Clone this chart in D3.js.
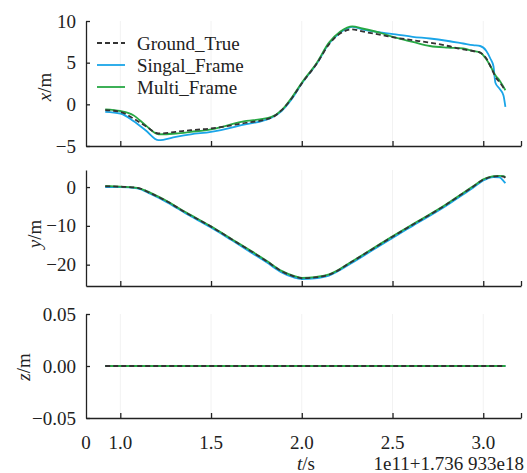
<!DOCTYPE html>
<html>
<head>
<meta charset="utf-8">
<script src="https://cdn.jsdelivr.net/npm/d3@7"></script>
<style>
  body { margin: 0; background: #fff; }
  svg text { font-family: "Liberation Serif", "Times New Roman", serif; font-size: 19px; fill: #222; }
</style>
</head>
<body>
<div id="chart"></div>
<script>
// time stamps (offset 1e11+1.736933e18, scaled)
const tX = [0.917, 1.000, 1.072, 1.139, 1.211, 1.306, 1.389, 1.500, 1.667, 1.833, 1.889, 1.944, 2.000,
  2.083, 2.150, 2.211, 2.250, 2.278, 2.333, 2.444, 2.517, 2.611, 2.706, 2.806, 2.889, 2.944, 2.983,
  3.017, 3.039, 3.056, 3.067, 3.089, 3.111, 3.122];
const xGround = [-0.7, -0.9, -1.7, -2.6, -3.5, -3.3, -3.1, -2.9, -2.3, -1.6, -0.7, 0.7, 2.5,
  4.9, 7.2, 8.5, 8.9, 9.0, 8.75, 8.3, 8.0, 7.7, 7.4, 7.0, 6.6, 6.4, 6.2,
  5.5, 4.6, 3.8, 3.3, 2.7, 2.0, 1.7];
const xSingle = [-0.9, -1.1, -2.0, -3.1, -4.3, -3.9, -3.6, -3.3, -2.5, -1.6, -0.8, 0.6, 2.5,
  4.9, 7.3, 8.6, 9.1, 9.3, 9.0, 8.6, 8.4, 8.1, 7.9, 7.6, 7.3, 7.1, 7.0,
  6.4, 5.5, 4.6, 2.6, 1.9, 1.1, -0.3];
const xMulti = [-0.6, -0.8, -1.3, -2.5, -3.6, -3.5, -3.3, -3.0, -2.1, -1.5, -0.7, 0.8, 2.6,
  5.0, 7.4, 8.7, 9.2, 9.35, 9.1, 8.5, 8.0, 7.5, 7.0, 6.8, 6.7, 6.4, 6.2,
  5.4, 4.6, 3.9, 3.5, 2.9, 2.1, 1.7];

const tY = [0.917, 1.000, 1.094, 1.167, 1.261, 1.361, 1.500, 1.611, 1.722, 1.806, 1.889, 1.956, 2.000,
  2.072, 2.150, 2.278, 2.389, 2.500, 2.611, 2.794, 2.889, 2.944, 3.000, 3.056, 3.089, 3.111, 3.122];
const yGround = [0.2, 0.1, -0.2, -1.6, -3.8, -6.6, -10.2, -13.4, -16.6, -19.1, -21.7, -23.0, -23.5,
  -23.3, -22.6, -19.2, -16.0, -12.8, -9.7, -4.6, -1.6, 0.1, 1.9, 2.7, 2.8, 2.7, 2.4];
const ySingle = [0.0, 0.0, -0.3, -1.8, -4.0, -6.8, -10.4, -13.6, -16.9, -19.4, -22.0, -23.3, -23.7,
  -23.5, -22.8, -19.5, -16.3, -13.1, -10.0, -4.9, -1.9, -0.2, 1.7, 2.6, 2.5, 1.6, 1.0];
const yMulti = [0.3, 0.1, -0.2, -1.5, -3.7, -6.5, -10.1, -13.3, -16.5, -19.0, -21.6, -22.9, -23.4,
  -23.2, -22.5, -19.1, -15.9, -12.7, -9.6, -4.5, -1.5, 0.2, 2.0, 2.8, 2.9, 2.8, 2.6];

const tZ = [0.917, 1.5, 2.0, 2.5, 3.0, 3.122];
const zGround = [0, 0, 0, 0, 0, 0];
const zSingle = [0, 0, 0, 0, 0, 0];
const zMulti = [0, 0, 0, 0, 0, 0];

const xTicks = [1.0, 1.5, 2.0, 2.5, 3.0];
const seriesNames = ["Ground_True", "Singal_Frame", "Multi_Frame"];
const seriesColors = ["#333333", "#1aa5e8", "#27a844"];

const width = 527, height = 473;
const left = 86, right = 521;
const font = "Liberation Serif";

const svg = d3.select("#chart").append("svg")
  .attr("width", width)
  .attr("height", height);

const xScale = d3.scaleLinear().domain([0.811, 3.208]).range([left, right]);

const panels = [
  { t: tX, series: [xGround, xSingle, xMulti], domain: [-5, 10], range: [146, 21], ticks: [-5, 0, 5, 10], fmt: d3.format("d"), label: "x", labelX: 44, labelY: 87 },
  { t: tY, series: [yGround, ySingle, yMulti], domain: [-25.5, 4.4], range: [286, 170], ticks: [-20, -10, 0], fmt: d3.format("d"), label: "y", labelX: 34, labelY: 234 },
  { t: tZ, series: [zGround, zSingle, zMulti], domain: [-0.05, 0.05], range: [418, 314], ticks: [-0.05, 0, 0.05], fmt: d3.format(".2f"), label: "z", labelX: 23, labelY: 367 }
];

panels.forEach(p => {
  const yScale = d3.scaleLinear().domain(p.domain).range(p.range);
  const g = svg.append("g");

  // faint vertical marks at the x ticks
  g.selectAll(".grid").data(xTicks).enter().append("line")
    .attr("x1", d => xScale(d)).attr("x2", d => xScale(d))
    .attr("y1", p.range[1]).attr("y2", p.range[0])
    .attr("stroke", "#f2f2f2").attr("stroke-width", 1);

  // x axis with inward ticks
  const xAxis = d3.axisBottom(xScale)
    .tickValues(xTicks.concat([xScale.domain()[1]]))
    .tickSize(-5).tickSizeOuter(0).tickFormat("");
  const gx = g.append("g").attr("transform", `translate(0,${p.range[0]})`).call(xAxis);

  const yAxis = d3.axisLeft(yScale).tickValues(p.ticks).tickSize(-4).tickSizeOuter(0)
    .tickFormat(d => p.fmt(d).replace("-", "\u2212"));
  const gy = g.append("g").attr("transform", `translate(${left},0)`).call(yAxis);
  gy.attr("font-family", font).attr("font-size", 19);
  gy.selectAll("text").attr("x", -10);

  [gx, gy].forEach(a => {
    a.select(".domain").attr("stroke", "#222").attr("stroke-width", 1.3);
    a.selectAll(".tick line").attr("stroke", "#222").attr("stroke-width", 1.3);
  });

  // y label, italic variable name
  const lab = g.append("text")
    .attr("transform", `translate(${p.labelX},${p.labelY}) rotate(-90)`)
    .attr("text-anchor", "middle")
    .attr("dominant-baseline", "central");
  lab.append("tspan").style("font-style", "italic").text(p.label);
  lab.append("tspan").text("/m");

  // lines: blue, green, then dashed ground truth on top
  [1, 2, 0].forEach(i => {
    const line = d3.line()
      .x((d, j) => xScale(p.t[j]))
      .y(d => yScale(d))
      .curve(d3.curveMonotoneX);
    g.append("path")
      .datum(p.series[i])
      .attr("d", line)
      .attr("fill", "none")
      .attr("stroke", seriesColors[i])
      .attr("stroke-width", 1.8)
      .attr("stroke-dasharray", i === 0 ? "5,3" : null);
  });
});

// x tick labels below the bottom panel
svg.selectAll(".xlab").data(xTicks).enter().append("text")
  .attr("x", d => xScale(d))
  .attr("y", 449)
  .attr("text-anchor", "middle")
  .text(d => d3.format(".1f")(d));

svg.append("text").attr("x", left).attr("y", 449).attr("text-anchor", "middle").text("0");

const tl = svg.append("text").attr("x", 306).attr("y", 470).attr("text-anchor", "middle");
tl.append("tspan").style("font-style", "italic").text("t");
tl.append("tspan").text("/s");

svg.append("text").attr("x", 524).attr("y", 470).attr("text-anchor", "end")
  .text("1e11+1.736 933e18");

// legend
const legend = svg.append("g");
seriesNames.forEach((name, i) => {
  const y = 43 + i * 22;
  legend.append("line")
    .attr("x1", 97).attr("x2", 125).attr("y1", y).attr("y2", y)
    .attr("stroke", seriesColors[i]).attr("stroke-width", 1.8)
    .attr("stroke-dasharray", i === 0 ? "5,3" : null);
  legend.append("text")
    .attr("x", 137).attr("y", y)
    .attr("dominant-baseline", "central")
    .text(name);
});
</script>
</body>
</html>
